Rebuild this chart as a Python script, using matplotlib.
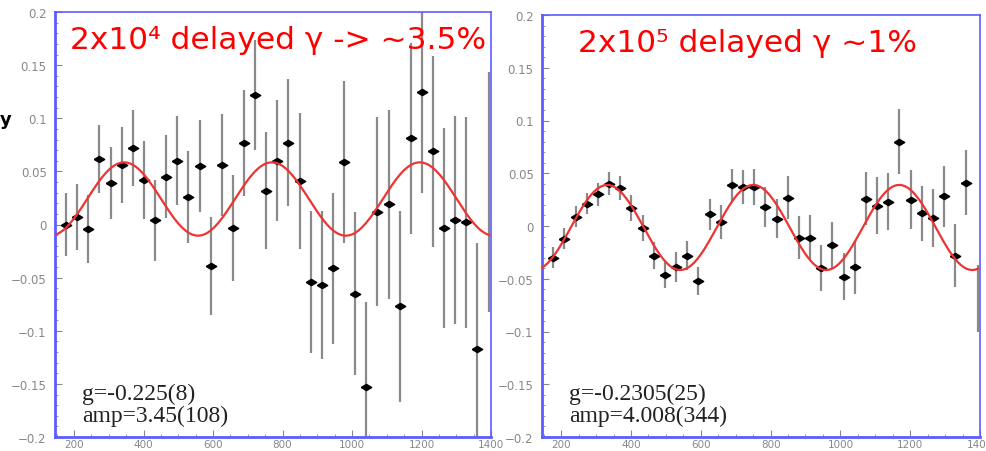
import numpy as np
import matplotlib
matplotlib.use("Agg")
from matplotlib import pyplot as plt
from matplotlib.ticker import MultipleLocator, FuncFormatter

# bin centres (ns), shared by both panels
times = [145, 177, 209, 241, 273, 305, 337, 369, 401, 433,
         465, 497, 529, 561, 593, 625, 657, 689, 721, 753,
         785, 817, 849, 881, 913, 945, 977, 1009, 1041, 1073,
         1105, 1137, 1169, 1201, 1233, 1265, 1297, 1329, 1361, 1393]

# left panel: 2x10^4 delayed gamma
asym_left = [-0.029, 0.000, 0.007, -0.004, 0.062, 0.039, 0.056, 0.072, 0.042, 0.004,
             0.045, 0.060, 0.026, 0.055, -0.039, 0.056, -0.003, 0.077, 0.122, 0.032,
             0.060, 0.077, 0.041, -0.054, -0.057, -0.041, 0.059, -0.065, -0.153, 0.012,
             0.019, -0.077, 0.081, 0.125, 0.069, -0.003, 0.004, 0.002, -0.117, 0.031]
err_left = [0.030, 0.030, 0.031, 0.032, 0.032, 0.034, 0.036, 0.036, 0.037, 0.038,
            0.039, 0.042, 0.043, 0.043, 0.046, 0.048, 0.050, 0.050, 0.052, 0.055,
            0.057, 0.060, 0.064, 0.067, 0.070, 0.071, 0.076, 0.077, 0.080, 0.089,
            0.089, 0.090, 0.090, 0.095, 0.090, 0.094, 0.098, 0.099, 0.100, 0.113]

# right panel: 2x10^5 delayed gamma
asym_right = [-0.052, -0.030, -0.012, 0.009, 0.021, 0.030, 0.040, 0.036, 0.017, -0.002,
              -0.028, -0.046, -0.039, -0.028, -0.052, 0.011, 0.004, 0.039, 0.037, 0.037,
              0.018, 0.007, 0.027, -0.011, -0.011, -0.040, -0.018, -0.048, -0.039, 0.026,
              0.019, 0.023, 0.080, 0.025, 0.012, 0.008, 0.028, -0.028, 0.041, -0.0685]
err_right = [0.0095, 0.010, 0.010, 0.010, 0.010, 0.011, 0.011, 0.0115, 0.012, 0.012,
             0.013, 0.013, 0.014, 0.014, 0.0135, 0.0145, 0.016, 0.015, 0.0165, 0.0175,
             0.019, 0.0185, 0.020, 0.0205, 0.021, 0.022, 0.0215, 0.022, 0.025, 0.025,
             0.027, 0.027, 0.031, 0.028, 0.026, 0.0275, 0.029, 0.030, 0.031, 0.032]

# fitted cosine: offset, amplitude, period, first peak
fit_left = (0.024, 0.0345, 425.5, 344.0)
fit_right = (-0.0014, 0.0403, 418.3, 332.0)

titles = ["2x10\u2074 delayed \u03b3 -> ~3.5%", "2x10\u2075 delayed \u03b3 ~1%"]
notes = [("g=-0.225(8)", "amp=3.45(108)"), ("g=-0.2305(25)", "amp=4.008(344)")]

diamond = [(-1, 0), (0, 0.6), (1, 0), (0, -0.6), (-1, 0)]
blue = "#5c5cff"
tick_gray = "#888888"


def fmt_y(v, pos):
    s = "%g" % round(v, 3)
    return s.replace("-", "\u2212")


fig = plt.figure(figsize=(9.86, 4.52), dpi=100)
ax_l = fig.add_axes([55 / 986, 14 / 452, 436 / 986, 425 / 452])
ax_r = fig.add_axes([542 / 986, 14 / 452, 438 / 986, 422 / 452])

panels = [(ax_l, asym_left, err_left, fit_left, 0.034),
          (ax_r, asym_right, err_right, fit_right, 0.082)]
for k, (ax, asym, err, fit, tx) in enumerate(panels):
    ax.errorbar(times, asym, yerr=err, fmt="none", ecolor="#8a8a8a", elinewidth=1.6, zorder=2)
    # the outermost bins sit on the frame, their markers are hidden there
    ax.plot(times[1:-1], asym[1:-1], linestyle="none", marker=diamond, markersize=7.5,
            color="black", zorder=3)

    off, amp, period, t0 = fit
    tt = np.linspace(145, 1395, 600)
    ax.plot(tt, off + amp * np.cos(2 * np.pi * (tt - t0) / period),
            color="#ee3333", lw=1.6, zorder=4)

    ax.set_xlim(145, 1395)
    ax.set_ylim(-0.2, 0.2)
    ax.set_xticks([200, 400, 600, 800, 1000, 1200, 1400])
    ax.xaxis.set_minor_locator(MultipleLocator(50))
    ax.yaxis.set_major_locator(MultipleLocator(0.05))
    ax.yaxis.set_minor_locator(MultipleLocator(0.01))
    ax.yaxis.set_major_formatter(FuncFormatter(fmt_y))
    ax.tick_params(which="both", direction="in", colors=tick_gray,
                   top=False, right=False)
    ax.tick_params(which="major", length=5, width=0.8)
    ax.tick_params(which="minor", length=2.5, width=0.6)
    ax.tick_params(axis="y", labelsize=8.5, pad=6)
    ax.tick_params(axis="x", labelsize=7.5, pad=1.5)

    for side, sp in ax.spines.items():
        sp.set_color(blue)
        sp.set_linewidth(2.0 if side in ("left", "bottom") else 1.2)

    ax.text(tx, 0.97, titles[k], transform=ax.transAxes, color="red",
            fontsize=22.5, ha="left", va="top", family="DejaVu Sans")
    ax.text(0.062, 0.078, notes[k][0], transform=ax.transAxes, color="#222222",
            fontsize=17, ha="left", va="bottom", family="Liberation Serif")
    ax.text(0.062, 0.025, notes[k][1], transform=ax.transAxes, color="#222222",
            fontsize=17, ha="left", va="bottom", family="Liberation Serif")

# stray glyph cut at the left edge of the slide
fig.text(0.0, 0.735, "y", fontsize=13, fontweight="bold", ha="left", va="center")

fig.savefig("out.png", dpi=100)
